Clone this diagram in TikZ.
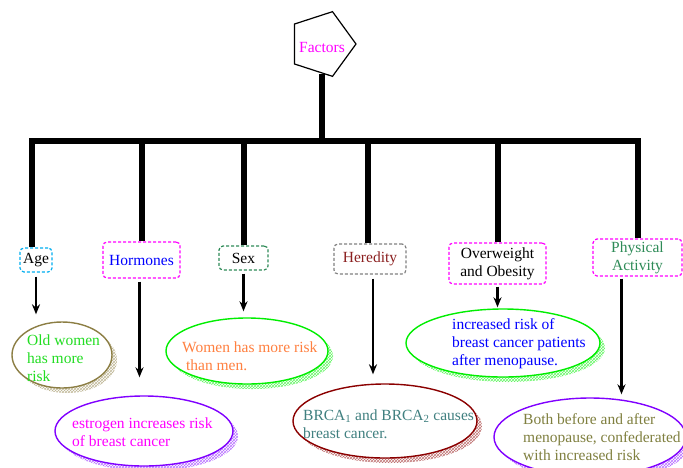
\documentclass[tikz,border=0pt]{standalone}
\usepackage{fontspec}
\setmainfont{Liberation Serif}
\usetikzlibrary{shapes.geometric,patterns,arrows.meta}
\definecolor{cOlive}{HTML}{8C7E44}
\definecolor{cViolet}{HTML}{8000FF}
\definecolor{cLime}{HTML}{00EE00}
\definecolor{cDRed}{HTML}{8B0000}
\definecolor{cGreenTxt}{HTML}{22DD22}
\definecolor{cCoral}{HTML}{FF8040}
\definecolor{cTeal}{HTML}{408080}
\definecolor{cOliveTxt}{HTML}{808040}
\definecolor{cHered}{HTML}{8B2020}
\definecolor{cSea}{HTML}{2E8B57}
\definecolor{cMag}{HTML}{FF00FF}
\begin{document}
\begin{tikzpicture}[x=1pt,y=-1pt,
  every node/.style={font=\fontsize{15.5}{18}\selectfont},
  bar/.style={line width=6pt,line join=miter},
  fbox/.style={draw,dashed,dash pattern=on 3pt off 2pt,line width=1.2pt,rounded corners=4pt,inner sep=0pt,align=center},
  arr/.style={line width=2.2pt,-{Stealth[length=10pt,width=8pt]}},
  ell/.style={ellipse,draw,line width=1.4pt,fill=white,inner sep=0pt},
  shad/.style={ellipse,inner sep=0pt,pattern=crosshatch,pattern color=#1},
  txt/.style={anchor=west,align=left,inner sep=0pt}
]
\useasboundingbox (0,0) rectangle (683,467);

% top node
\node[regular polygon,regular polygon sides=5,shape border rotate=-90,draw,line width=1.2pt,minimum size=68pt,inner sep=0pt,text=cMag] (fac) at (322,44) {};
\node[inner sep=0pt,text=cMag] (factxt) at (322,47) {Factors};

% factor boxes
\node[fbox,draw=cyan,minimum width=32pt,minimum height=24pt] (age) at (36,260) {Age};
\node[fbox,draw=cMag,text=blue,minimum width=77pt,minimum height=36pt] (horm) at (141.5,260) {Hormones};
\node[fbox,draw=cSea,minimum width=49pt,minimum height=24pt] (sex) at (243.5,258) {Sex};
\node[fbox,draw=gray,text=cHered,minimum width=72pt,minimum height=30pt] (hered) at (370,259) {Heredity};
\node[fbox,draw=cMag,minimum width=97pt,minimum height=41pt] (over) at (497.5,263.5) {Overweight\\and Obesity};
\node[fbox,draw=cMag,text=cSea,minimum width=89pt,minimum height=37pt] (phys) at (637.5,257.5) {Physical\\Activity};

% bus
\coordinate (bus) at (0,141);
\draw[bar] ([xshift=-4pt]age.north) |- (bus -| phys.north) -- (phys.north);
\draw[bar] (fac.south) -- (fac.south |- bus);
\draw[bar] (horm.north) -- (horm.north |- bus);
\draw[bar] (sex.north) -- (sex.north |- bus);
\draw[bar] ([xshift=-2pt]hered.north) -- ([xshift=-2pt]hered.north |- bus);
\draw[bar] (over.north) -- (over.north |- bus);

% shadows
\node[shad=cOlive!55,minimum width=100pt,minimum height=66pt] (s1) at (67,360) {};
\node[shad=cViolet!55,minimum width=178pt,minimum height=70pt] (s2) at (149,436) {};
\node[shad=cLime!60,minimum width=162pt,minimum height=66pt] (s3) at (252,356) {};
\node[shad=cDRed!55,minimum width=184pt,minimum height=74pt] (s4) at (390,426) {};
\node[shad=cLime!60,minimum width=194pt,minimum height=68pt] (s5) at (508,348) {};
\node[shad=cViolet!55,minimum width=192pt,minimum height=78pt] (s6) at (595,442) {};

% ellipses
\node[ell,draw=cOlive,minimum width=100pt,minimum height=66pt] (old) at (62,355) {};
\node[ell,draw=cViolet,minimum width=178pt,minimum height=70pt] (est) at (144,431) {};
\node[ell,draw=cLime,minimum width=162pt,minimum height=66pt] (wom) at (247,351) {};
\node[ell,draw=cDRed,minimum width=184pt,minimum height=74pt] (brca) at (385,421) {};
\node[ell,draw=cLime,minimum width=194pt,minimum height=68pt] (inc) at (503,343) {};
\node[ell,draw=cViolet,minimum width=192pt,minimum height=78pt] (both) at (590,437) {};

% ellipse texts
\node[txt,text=cGreenTxt] (t1) at (27,358) {Old women\\has more\\risk};
\node[txt,text=cMag] (t2) at (72,432) {estrogen increases risk\\of breast cancer};
\node[txt,text=cCoral] (t3) at (182,356) {Women has more risk\\\ than men.};
\node[txt,text=cTeal] (t4) at (303,424) {BRCA\textsubscript{1} and BRCA\textsubscript{2} causes\\breast cancer.};
\node[txt,text=blue] (t5) at (452,344) {increased risk of\\breast cancer patients\\after menopause.};
\node[txt,text=cOliveTxt] (t6) at (523,437) {Both before and after\\menopause, confederated\\with increased risk};

% arrows
\draw[arr,shorten <=4pt,shorten >=7pt] (age.south) -- (age.south |- old.north);
\draw[arr,shorten <=3pt,shorten >=18pt] ([xshift=-2pt]horm.south) -- ([xshift=-2pt]horm.south |- est.north);
\draw[arr,shorten <=3pt,shorten >=6pt] (sex.south) -- (sex.south |- wom.north);
\draw[arr,shorten <=4pt,shorten >=9pt] ([xshift=3pt]hered.south) -- ([xshift=3pt]hered.south |- brca.north);
\draw[arr,shorten <=2pt,shorten >=1pt] (over.south) -- (over.south |- inc.north);
\draw[arr,shorten <=2pt,shorten >=3pt] ([xshift=-16pt]phys.south) -- ([xshift=-16pt]phys.south |- both.north);
\end{tikzpicture}
\end{document}
